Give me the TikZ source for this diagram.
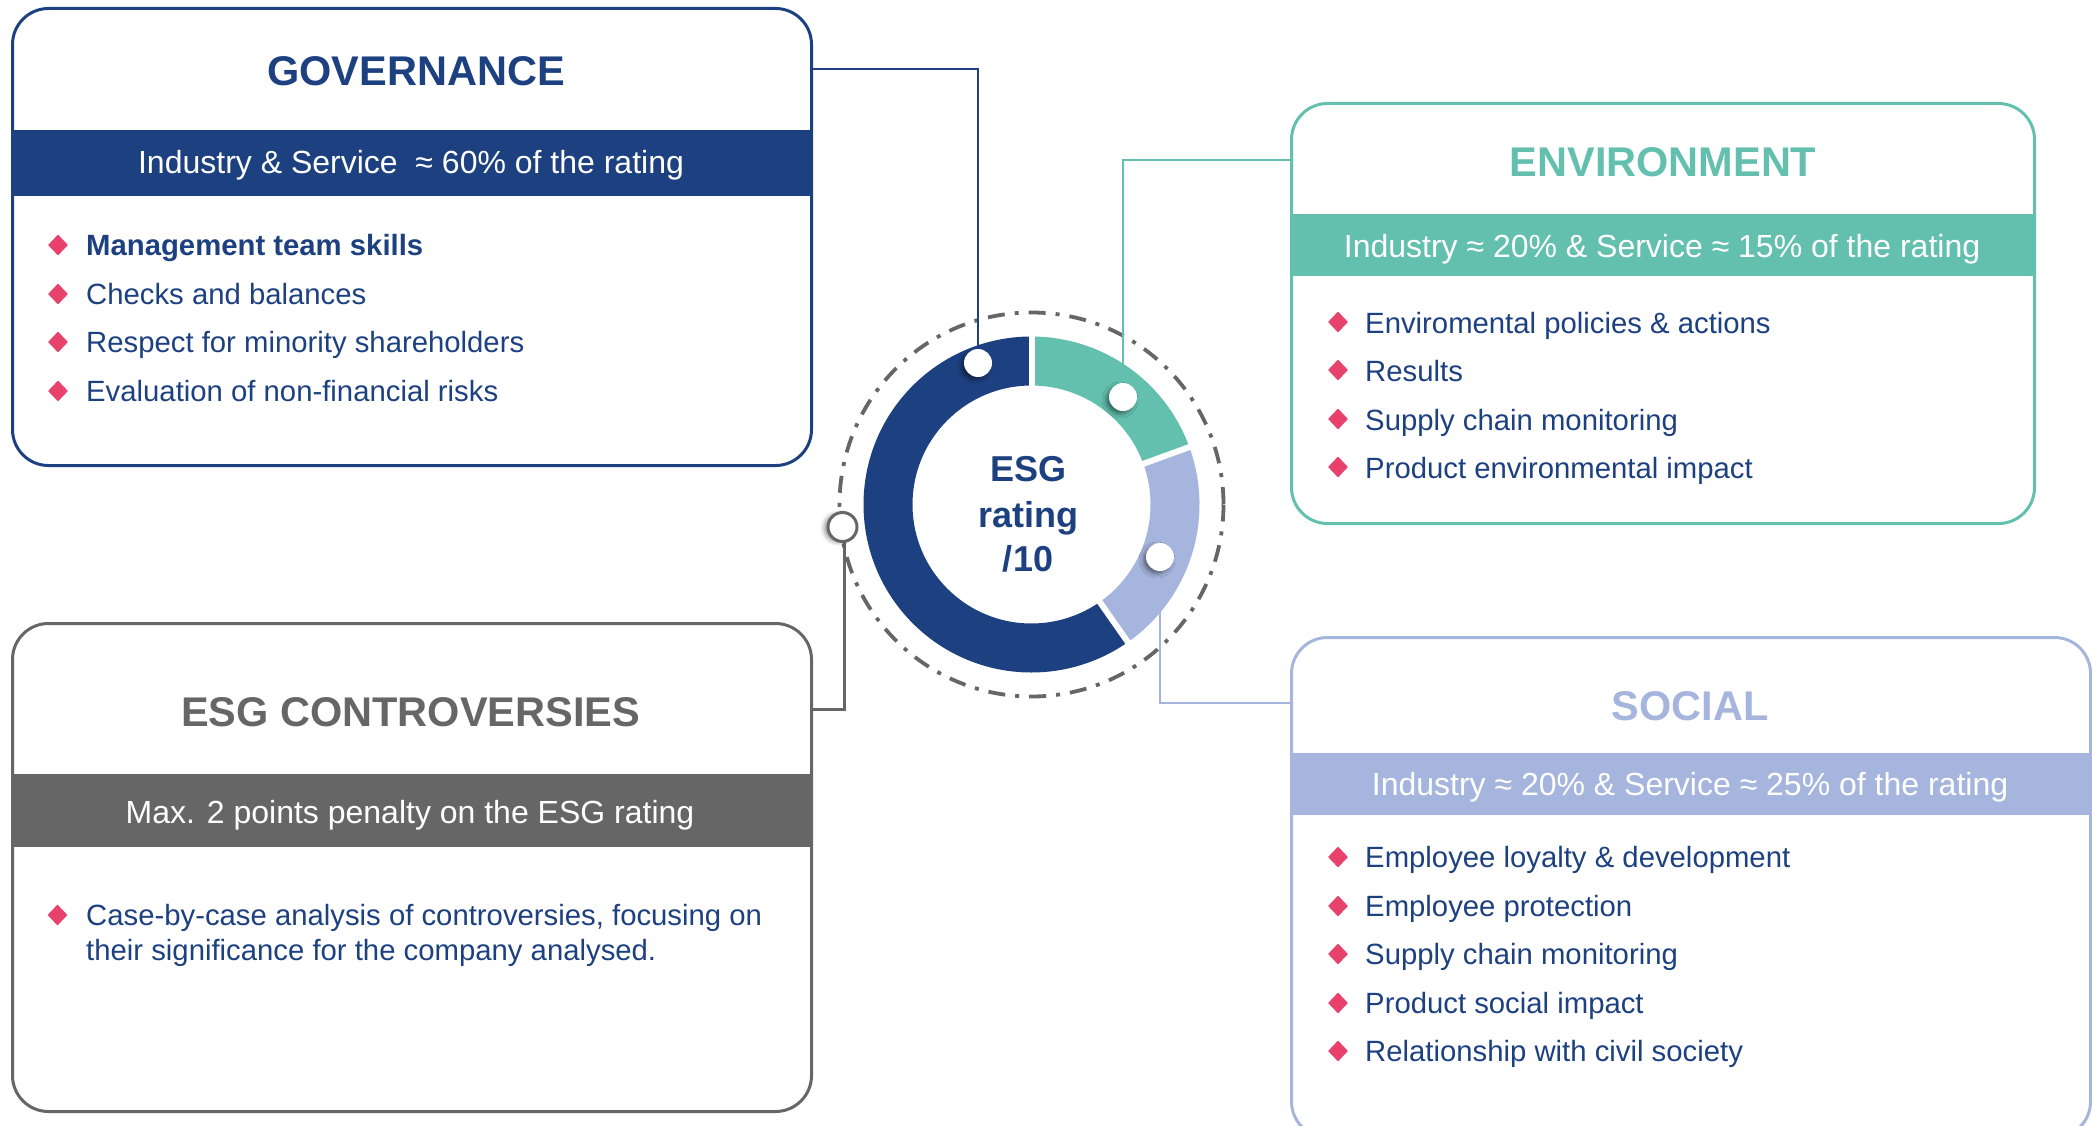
\documentclass[tikz,border=0pt]{standalone}
\usepackage{fontspec}
\setmainfont{Liberation Sans}
\usetikzlibrary{shapes.geometric,shadows.blur,calc}

\definecolor{navy}{HTML}{1C4080}
\definecolor{teal}{HTML}{63BFAE}
\definecolor{lavender}{HTML}{A6B5DD}
\definecolor{slate}{HTML}{666666}
\definecolor{rose}{HTML}{E8426C}

\begin{document}
\begin{tikzpicture}[x=1pt,y=-1pt,
  boxframe/.style={draw=#1, line width=3pt, rounded corners=36pt, inner sep=0pt, anchor=north west},
  headtext/.style={text=#1, font=\fontsize{41.5}{48}\selectfont\bfseries, inner sep=0pt, anchor=base},
  bandtext/.style={text=white, font=\fontsize{32}{38}\selectfont, inner sep=0pt, anchor=base},
  itemtext/.style={text=navy, font=\fontsize{29.3}{35}\selectfont, inner sep=0pt, anchor=base west},
  bul/.style={diamond, fill=rose, minimum width=20pt, minimum height=21pt, inner sep=0pt},
  conn/.style={draw=#1, line width=2.2pt},
  ringdot/.style={circle, fill=white, minimum size=28pt, inner sep=0pt,
    blur shadow={shadow xshift=-3pt, shadow yshift=-3pt, shadow blur radius=4pt, shadow opacity=45}},
  centertext/.style={text=navy, font=\fontsize{36}{44}\selectfont\bfseries, inner sep=0pt, anchor=base},
]
\useasboundingbox (0,0) rectangle (2092,1126);

% ---------- central ring ----------
\coordinate (C) at (1031.5,504.5);
\draw[slate, line width=3.8pt, dash pattern=on 17pt off 10pt on 4pt off 10pt] (C) circle[radius=192];
\draw[navy, line width=49pt] ($(C)+(-90:143.5)$) arc[start angle=-90, end angle=-305, radius=143.5];
\draw[teal, line width=49pt] ($(C)+(-20:143.5)$) arc[start angle=-20, end angle=-90, radius=143.5];
\draw[lavender, line width=49pt] ($(C)+(55:143.5)$) arc[start angle=55, end angle=-20, radius=143.5];
\foreach \a in {-90,-20,55}
  \draw[white, line width=6pt] ($(C)+(\a:114)$) -- ($(C)+(\a:173)$);

\node[centertext] (esg1) at (1028,481) {ESG};
\node[centertext] (esg2) at (1028,527) {rating};
\node[centertext] (esg3) at (1028,571) {/10};

% ---------- governance ----------
\fill[navy] (11,130) rectangle (810,196);
\node[boxframe=navy, minimum width=799pt, minimum height=457pt] (gov) at (11,7) {};
\node[headtext=navy] (govt) at (416,86) {GOVERNANCE};
\node[bandtext] (govb) at (411,174) {Industry \& Service \ ≈ 60\% of the rating};
\node[bul] (g1b) at (58,245) {};
\node[itemtext, font=\fontsize{29.3}{35}\selectfont\bfseries] (g1) at (86,255) {Management team skills};
\node[bul] (g2b) at (58,294) {};
\node[itemtext] (g2) at (86,304) {Checks and balances};
\node[bul] (g3b) at (58,342) {};
\node[itemtext] (g3) at (86,352) {Respect for minority shareholders};
\node[bul] (g4b) at (58,391) {};
\node[itemtext] (g4) at (86,401) {Evaluation of non-financial risks};

% ---------- environment ----------
\fill[teal] (1290,214) rectangle (2033,276);
\node[boxframe=teal, minimum width=743pt, minimum height=420pt] (env) at (1290,102) {};
\node[headtext=teal] (envt) at (1663,177) {ENVIRONMENT};
\node[bandtext] (envb) at (1662,257) {Industry ≈ 20\% \& Service ≈ 15\% of the rating};
\node[bul] (e1b) at (1338,322) {};
\node[itemtext] (e1) at (1365,333) {Enviromental policies \& actions};
\node[bul] (e2b) at (1338,370) {};
\node[itemtext] (e2) at (1365,381) {Results};
\node[bul] (e3b) at (1338,419) {};
\node[itemtext] (e3) at (1365,430) {Supply chain monitoring};
\node[bul] (e4b) at (1338,467) {};
\node[itemtext] (e4) at (1365,478) {Product environmental impact};

% ---------- social ----------
\fill[lavender] (1290,753) rectangle (2089,815);
\node[boxframe=lavender, minimum width=799pt, minimum height=500pt] (soc) at (1290,636) {};
\node[headtext=lavender] (soct) at (1690,720) {SOCIAL};
\node[bandtext] (socb) at (1690,795) {Industry ≈ 20\% \& Service ≈ 25\% of the rating};
\node[bul] (s1b) at (1338,857) {};
\node[itemtext] (s1) at (1365,867) {Employee loyalty \& development};
\node[bul] (s2b) at (1338,906) {};
\node[itemtext] (s2) at (1365,916) {Employee protection};
\node[bul] (s3b) at (1338,954) {};
\node[itemtext] (s3) at (1365,964) {Supply chain monitoring};
\node[bul] (s4b) at (1338,1003) {};
\node[itemtext] (s4) at (1365,1013) {Product social impact};
\node[bul] (s5b) at (1338,1051) {};
\node[itemtext] (s5) at (1365,1061) {Relationship with civil society};

% ---------- controversies ----------
\fill[slate] (11,774) rectangle (810,847);
\node[boxframe=slate, minimum width=799pt, minimum height=488pt] (con) at (11,622) {};
\node[headtext=slate] (cont) at (410.5,726) {ESG CONTROVERSIES};
\node[bandtext] (conb) at (410,823) {Max. 2 points penalty on the ESG rating};
\node[bul] (c1b) at (57.5,915) {};
\node[itemtext] (c1) at (86,925) {Case-by-case analysis of controversies, focusing on};
\node[itemtext] (c2) at (86,960) {their significance for the company analysed.};

% ---------- connectors ----------
\coordinate (gy) at (0,69);
\coordinate (ey) at (0,160);
\coordinate (sy) at (0,703);
\coordinate (cy) at (0,709);
\coordinate (gdotpos) at (978,363);
\coordinate (edotpos) at (1123,397);
\coordinate (sdotpos) at (1160,557);
\coordinate (cdotpos) at (844,527);

\draw[conn=navy] (gdotpos) |- (gov.east |- gy);
\draw[conn=teal] (edotpos) |- (env.west |- ey);
\draw[conn=lavender, line width=2.5pt] (sdotpos) |- (soc.west |- sy);
\draw[conn=slate, line width=3pt] (cdotpos) |- (con.east |- cy);

\node[ringdot] (gdot) at (gdotpos) {};
\node[ringdot] (edot) at (edotpos) {};
\node[ringdot] (sdot) at (sdotpos) {};
\node[circle, fill=white, draw=slate, line width=3pt, minimum size=29pt, inner sep=0pt,
  blur shadow={shadow xshift=-4pt, shadow yshift=-1pt, shadow blur radius=4pt, shadow opacity=40}] (cdot) at (842.5,527) {};
\end{tikzpicture}
\end{document}
